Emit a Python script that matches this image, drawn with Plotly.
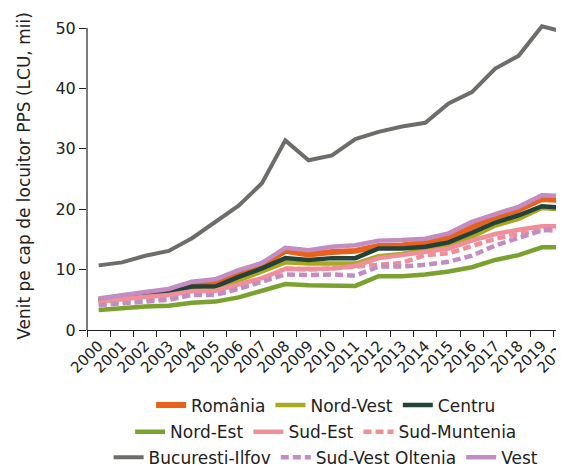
import plotly.graph_objects as go

# Venit pe cap de locuitor PPS, 2000-2020 (mii)
years = [str(y) for y in range(2000, 2021)]

romania = [5.0, 5.5, 6.0, 6.4, 7.5, 7.9, 9.3, 10.8, 13.1, 12.5, 12.9, 13.1, 13.9, 14.0, 14.5, 15.3, 17.0, 18.7, 19.9, 21.7, 21.5]
nord_vest = [4.7, 5.1, 5.6, 5.9, 6.8, 6.9, 8.2, 9.7, 11.2, 11.0, 11.0, 11.0, 12.2, 12.6, 13.3, 13.9, 15.4, 17.3, 18.4, 20.2, 19.9]
centru = [4.9, 5.3, 5.8, 6.2, 7.2, 7.2, 8.8, 10.2, 11.9, 11.6, 11.9, 11.9, 13.5, 13.5, 13.8, 14.5, 16.1, 17.8, 19.0, 20.5, 20.2]
nord_est = [3.3, 3.6, 3.9, 4.0, 4.5, 4.7, 5.4, 6.5, 7.6, 7.4, 7.4, 7.3, 8.9, 8.9, 9.2, 9.7, 10.4, 11.6, 12.4, 13.7, 13.7]
sud_est = [4.8, 5.2, 5.5, 5.8, 6.4, 6.5, 7.6, 8.6, 10.1, 10.1, 10.2, 10.6, 11.9, 12.4, 13.0, 13.5, 14.8, 15.9, 16.6, 17.2, 17.2]
sud_muntenia = [4.4, 4.7, 5.0, 5.3, 6.0, 6.0, 7.0, 8.3, 10.2, 10.0, 10.2, 10.5, 10.9, 11.1, 12.4, 12.7, 13.9, 15.1, 15.9, 16.6, 16.3]
bucuresti = [10.7, 11.2, 12.3, 13.1, 15.2, 17.9, 20.6, 24.3, 31.4, 28.1, 28.9, 31.6, 32.8, 33.7, 34.3, 37.5, 39.4, 43.3, 45.4, 50.3, 49.3]
sv_oltenia = [4.1, 4.4, 4.7, 5.0, 5.8, 5.8, 6.8, 8.0, 9.2, 9.1, 9.2, 9.0, 10.5, 10.5, 10.8, 11.3, 12.3, 14.0, 15.2, 16.5, 16.9]
vest = [5.2, 5.8, 6.3, 6.8, 8.0, 8.4, 9.9, 11.1, 13.6, 13.2, 13.8, 14.05, 14.8, 14.9, 15.1, 16.0, 17.9, 19.2, 20.4, 22.3, 22.2]

# name, values, color, width, dash, legend row
series = [
    ("România", romania, "#E9611A", 6, "solid", "legend"),
    ("Nord-Vest", nord_vest, "#A9A81E", 4.5, "solid", "legend"),
    ("Centru", centru, "#23423A", 4.5, "solid", "legend"),
    ("Nord-Est", nord_est, "#7BA22E", 4.5, "solid", "legend2"),
    ("Sud-Est", sud_est, "#F08F9A", 4.5, "solid", "legend2"),
    ("Sud-Muntenia", sud_muntenia, "#F08F9A", 4.5, "8px,4px", "legend2"),
    ("Bucuresti-Ilfov", bucuresti, "#6E6D6A", 4, "solid", "legend3"),
    ("Sud-Vest Oltenia", sv_oltenia, "#C38DC3", 4.5, "8px,4px", "legend3"),
    ("Vest", vest, "#C38DC3", 4.5, "solid", "legend3"),
]

fig = go.Figure()
for name, vals, color, w, dash, leg in series:
    fig.add_trace(go.Scatter(x=years, y=vals, name=name, mode="lines",
                             line=dict(color=color, width=w, dash=dash),
                             legend=leg))

fam = "DejaVu Sans"
font = dict(family=fam, size=17, color="#222222")
xfont = dict(family=fam, size=15, color="#222222")
yfont = dict(family=fam, size=16, color="#222222")
leg_common = dict(orientation="h", x=0.493, xanchor="center", yanchor="middle",
                  font=dict(family=fam, size=17, color="#222222"),
                  bgcolor="rgba(0,0,0,0)")

fig.update_layout(
    width=564, height=468,
    margin=dict(l=79, r=0, t=14, b=142),
    plot_bgcolor="white", paper_bgcolor="white",
    font=font,
    legend=dict(y=-0.245, **leg_common),
    legend2=dict(y=-0.332, **leg_common),
    legend3=dict(y=-0.415, **leg_common),
    xaxis=dict(type="category", range=[-0.5, 20.29], showgrid=False,
               showline=True, linecolor="#222222", linewidth=1.2,
               ticks="outside", tickson="boundaries", ticklen=6,
               tickcolor="#222222", tickangle=-45, tickfont=xfont),
    yaxis=dict(range=[0, 51], tickvals=[0, 10, 20, 30, 40, 50], showgrid=False,
               zeroline=False, showline=False, ticks="outside", ticklen=7,
               tickcolor="#222222", tickfont=yfont,
               title=dict(text="Venit pe cap de locuitor PPS (LCU, mii)",
                          font=font, standoff=20)),
    shapes=[dict(type="line", xref="paper", yref="y", x0=0, x1=0, y0=0, y1=50,
                 line=dict(color="#222222", width=1.2))],
)

fig.write_html("out.html")
